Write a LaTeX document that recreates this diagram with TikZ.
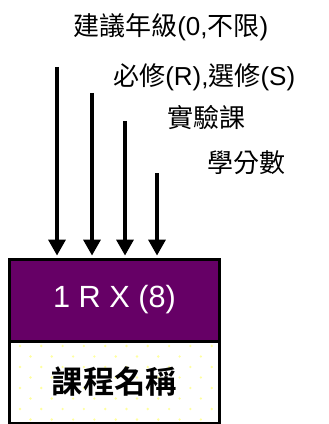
\documentclass[tikz,border=0pt]{standalone}
\usepackage{fontspec}
\setmainfont{Liberation Sans}
\newfontfamily\cjk[BoldFont={Noto Sans CJK TC Bold}]{Noto Sans CJK TC}
\newfontfamily\lat{Liberation Sans}
\usetikzlibrary{arrows.meta,positioning,backgrounds}
\definecolor{plum}{RGB}{102,0,102}
\definecolor{dotyellow}{RGB}{255,255,160}

\begin{document}
\begin{tikzpicture}[x=0.75pt, y=-0.75pt,
    codebox/.style={rectangle, draw=black, line width=2.25pt, fill=plum, text=white, outer sep=0pt, minimum width=157pt, minimum height=61.5pt, font=\lat\fontsize{23}{26}\selectfont},
    namebox/.style={rectangle, draw=black, line width=2.25pt, outer sep=0pt, minimum width=157pt, minimum height=61.5pt, font=\cjk\bfseries\fontsize{23.5}{27}\selectfont},
    tag/.style={anchor=west, inner sep=0pt, font=\cjk\fontsize{19.5}{22}\selectfont},
    arr/.style={line width=3pt, -{Triangle[width=12.5pt,length=12pt]}, shorten >=2.5pt},
    node distance=0pt
]
    \useasboundingbox (0,0) rectangle (328,424);
    \node[codebox] (code) at (114.5,300) {1 R X (8)};
    \node[namebox, below=of code] (name) {課程名稱};
    \begin{scope}[on background layer]
        \clip (name.south west) rectangle (name.north east);
        \foreach \r in {0,...,7}
            \foreach \c in {0,...,9}
                \fill[dotyellow] ({20+10.5*mod(\r,2)+21.3*\c},{346+10.5*\r}) circle (1pt);
    \end{scope}

    \node[tag] (gradetext) at (73,27) {建議年級{\lat(0,}不限{\lat)}};
    \node[tag] (reqtext) at (113,77) {必修{\lat(R),}選修{\lat(S)}};
    \node[tag] (labtext) at (167,118) {實驗課};
    \node[tag] (credittext) at (207,163) {學分數};

    \coordinate (grade) at (57,67);
    \coordinate (req) at (92,93);
    \coordinate (lab) at (125,121);
    \coordinate (credit) at (157,173);
    \foreach \p in {grade,req,lab,credit}
        \draw[arr] (\p) -- (\p |- code.north);
\end{tikzpicture}
\end{document}
